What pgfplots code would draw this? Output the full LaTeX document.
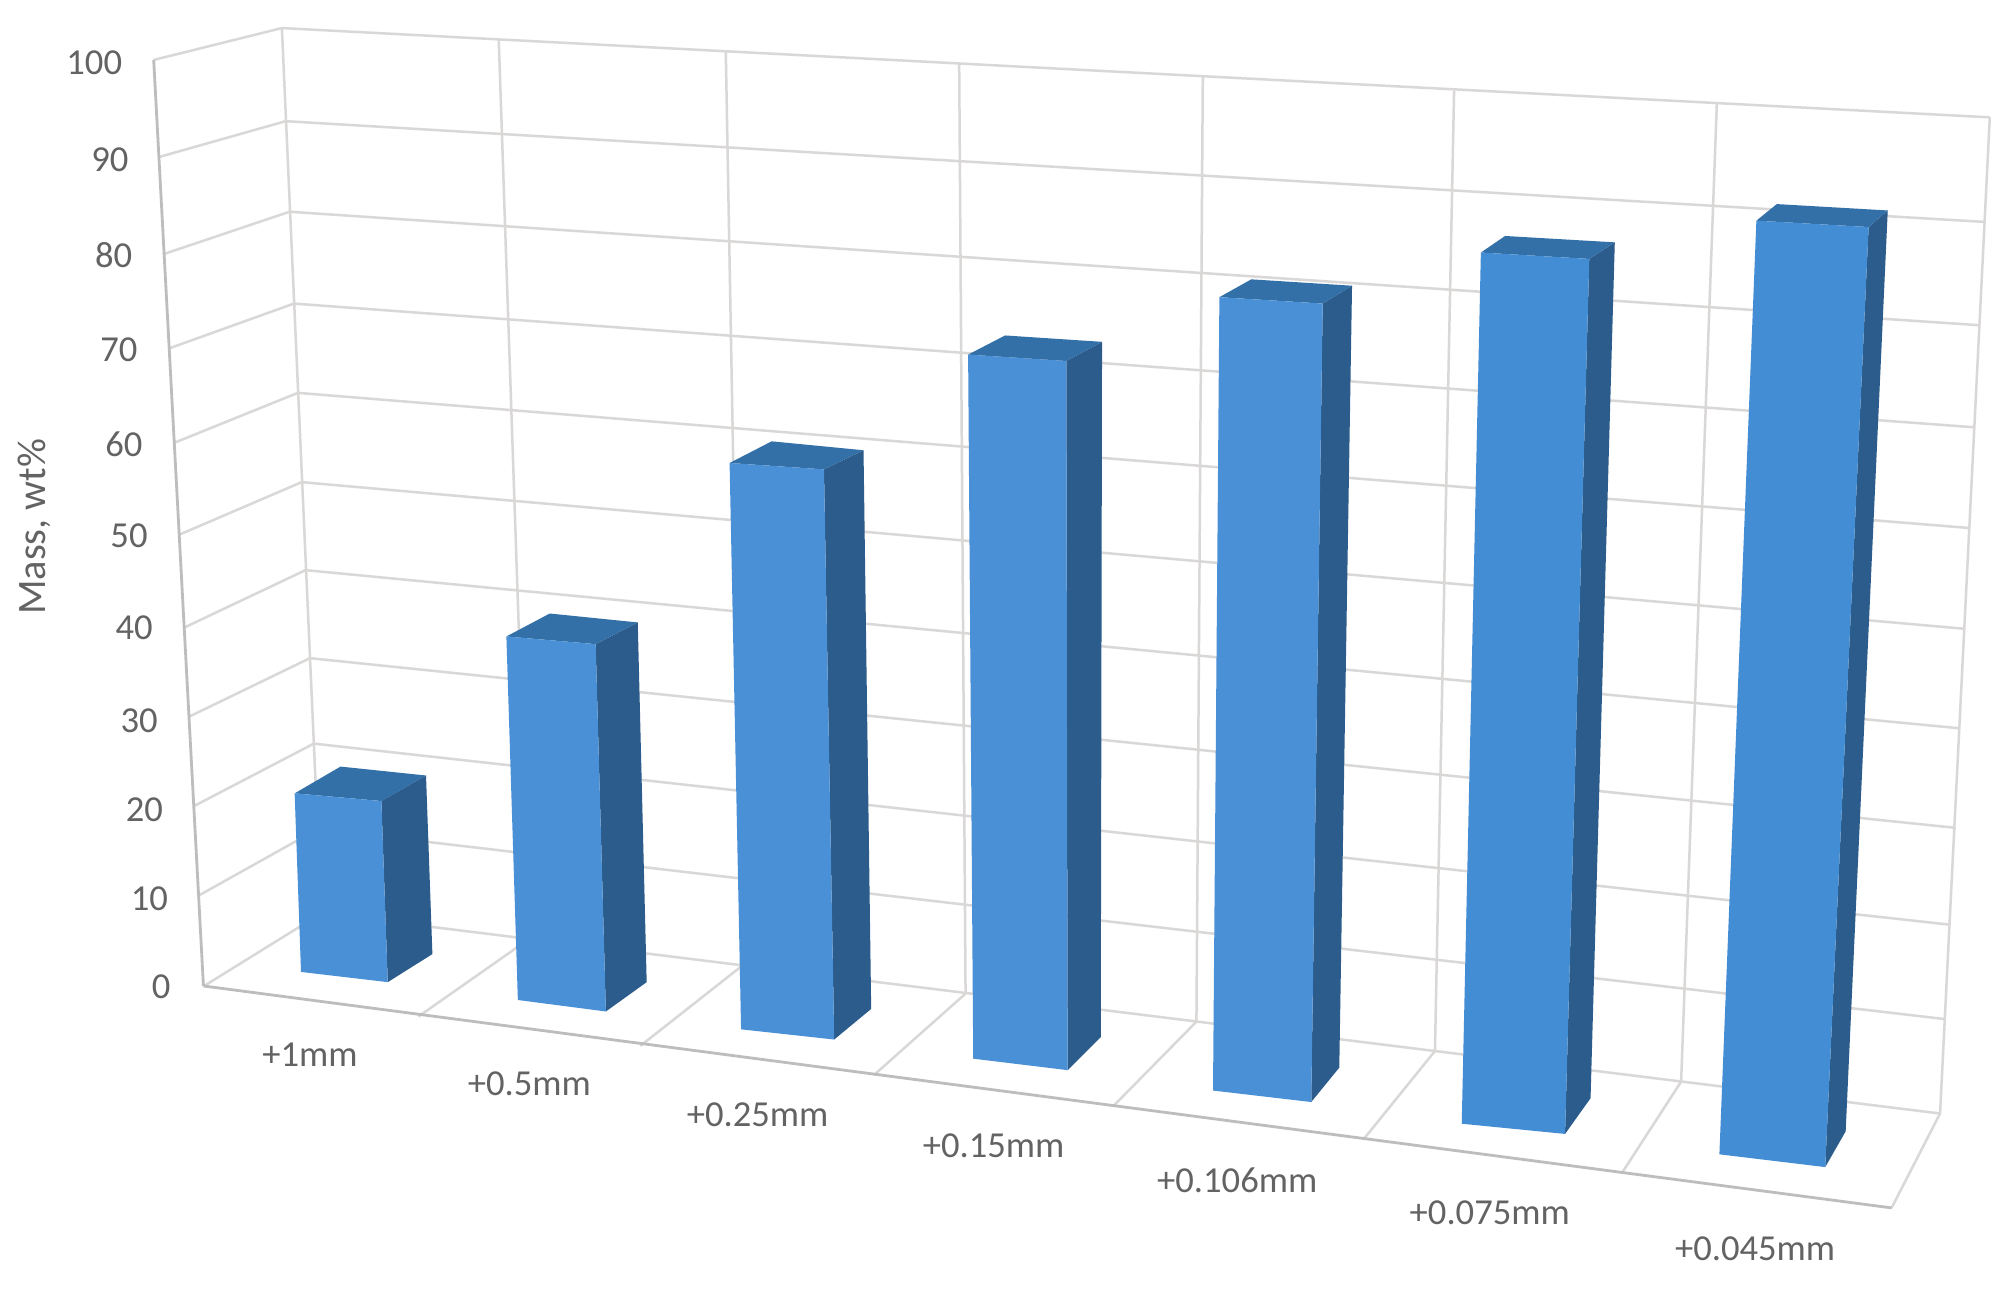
\documentclass[border=0pt]{standalone}
\usepackage{fontspec}
\setmainfont{Carlito}
\usepackage{pgfplots}
\pgfplotsset{compat=1.18}

\definecolor{frontblue}{HTML}{4A90D6}
\definecolor{frontblueb}{HTML}{428DD4}
\definecolor{topblue}{HTML}{3370A8}
\definecolor{sideblue}{HTML}{2B5C8C}
\definecolor{gridgray}{HTML}{DAD7D7}
\definecolor{edgegray}{HTML}{BDBDBD}
\definecolor{txtgray}{HTML}{636363}

\tikzset{
  wall/.style={draw=gridgray, line width=1.25pt},
  edge/.style={draw=edgegray, line width=1.4pt},
  lab/.style={font=\fontsize{18.3}{20}\selectfont, text=txtgray, inner sep=0pt},
  front/.style={fill=frontblue, draw=none},
  frontb/.style={fill=frontblueb, draw=none},
  top/.style={fill=topblue, draw=none},
  side/.style={fill=sideblue, draw=none},
}
% the chart is a 3D view, so everything is given in picture coordinates
\newcommand{\wl}[4]{\addplot[wall] coordinates {(#1,#2)(#3,#4)};}
\newcommand{\el}[4]{\addplot[edge] coordinates {(#1,#2)(#3,#4)};}

\begin{document}
\begin{tikzpicture}
\begin{axis}[
    scale only axis,
    width=1000pt, height=645.4pt,
    xmin=0, xmax=1568,
    ymin=0, ymax=1012,
    y dir=reverse,
    hide axis,
    clip=false,
    no markers,
]
\addplot[fill=white, draw=none] coordinates {(0,0)(1568,0)(1568,1012)(0,1012)} -- cycle;

% left wall, 100 down to 0
\wl{120.5}{47}{221}{22}
\wl{125}{123}{224}{95}
\wl{129}{199}{227}{166}
\wl{133}{273}{230.5}{238}
\wl{137}{347}{233.5}{308}
\wl{141}{419}{236.5}{378}
\wl{144.5}{492}{239.5}{447}
\wl{148}{562}{243}{516}
\wl{152}{632}{246}{583}
\wl{156}{702}{249}{650}
% back wall, horizontals
\wl{221}{22}{1560}{92}
\wl{224}{95}{1556}{174}
\wl{227}{166}{1552}{255}
\wl{230.5}{238}{1548}{335}
\wl{233.5}{308}{1544.5}{414}
\wl{236.5}{378}{1540.5}{493}
\wl{239.5}{447}{1536.5}{571}
\wl{243}{516}{1533}{649}
\wl{246}{583}{1529}{725}
\wl{249}{650}{1525}{799}
\wl{252}{716}{1521}{873}
% back wall, verticals
\wl{221}{22}{252}{716}
\wl{391}{31}{415}{736}
\wl{569}{40}{582}{757}
\wl{752}{50}{757}{779}
\wl{943}{60}{938}{801}
\wl{1140}{71}{1125}{824}
\wl{1346}{81}{1318}{848}
\wl{1560}{92}{1521}{873}
% floor
\wl{252}{716}{160}{773}
\wl{415}{736}{328}{797}
\wl{582}{757}{502}{820}
\wl{757}{779}{685}{843}
\wl{938}{801}{873}{867}
\wl{1125}{824}{1070}{892}
\wl{1318}{848}{1272}{919}
\wl{1521}{873}{1483}{947}
% outer edges
\el{120.5}{47}{159.5}{773}
\el{159.5}{773}{1483}{947}

% +1mm
\addplot[side] coordinates {(299,628)(334,608)(339,748)(304,770)} -- cycle;
\addplot[top] coordinates {(231,622)(267,601)(334,608)(299,628)} -- cycle;
\addplot[front] coordinates {(231,622)(299,628)(304,770)(236,762)} -- cycle;
% +0.5mm
\addplot[side] coordinates {(467,505)(500,488)(507,770)(475,793)} -- cycle;
\addplot[top] coordinates {(397,499)(431,481)(500,488)(467,505)} -- cycle;
\addplot[front] coordinates {(397,499)(467,505)(475,793)(406,784)} -- cycle;
% +0.25mm
\addplot[side] coordinates {(646,368)(677,353)(683,791)(654,815)} -- cycle;
\addplot[top] coordinates {(572,363)(605,346)(677,353)(646,368)} -- cycle;
\addplot[front] coordinates {(572,363)(646,368)(654,815)(581,807)} -- cycle;
% +0.15mm
\addplot[side] coordinates {(836,283)(864,268)(863,813)(837,839)} -- cycle;
\addplot[top] coordinates {(759,278)(788,263)(864,268)(836,283)} -- cycle;
\addplot[front] coordinates {(759,278)(836,283)(837,839)(763,830)} -- cycle;
% +0.106mm
\addplot[side] coordinates {(1037,238)(1060,224)(1050,837)(1028,864)} -- cycle;
\addplot[top] coordinates {(956,233)(981,219)(1060,224)(1037,238)} -- cycle;
\addplot[front] coordinates {(956,233)(1037,238)(1028,864)(951,855)} -- cycle;
% +0.075mm
\addplot[side] coordinates {(1246,203)(1266,190)(1247,861)(1227,889)} -- cycle;
\addplot[top] coordinates {(1161,198)(1180,185)(1266,190)(1246,203)} -- cycle;
\addplot[frontb] coordinates {(1161,198)(1246,203)(1227,889)(1146,881)} -- cycle;
% +0.045mm
\addplot[side] coordinates {(1465,178)(1480,165)(1447,887)(1431,915)} -- cycle;
\addplot[top] coordinates {(1377,173)(1393,160)(1480,165)(1465,178)} -- cycle;
\addplot[frontb] coordinates {(1377,173)(1465,178)(1431,915)(1348,905)} -- cycle;

% value labels
\node[lab, anchor=east] at (axis cs:96,49) {100};
\node[lab, anchor=east] at (axis cs:101,125) {90};
\node[lab, anchor=east] at (axis cs:104,200) {80};
\node[lab, anchor=east] at (axis cs:108,274) {70};
\node[lab, anchor=east] at (axis cs:112,348) {60};
\node[lab, anchor=east] at (axis cs:116,420) {50};
\node[lab, anchor=east] at (axis cs:120,492) {40};
\node[lab, anchor=east] at (axis cs:124,565) {30};
\node[lab, anchor=east] at (axis cs:128,635) {20};
\node[lab, anchor=east] at (axis cs:132,705) {10};
\node[lab, anchor=east] at (axis cs:134,774) {0};
\node[lab, rotate=90, font=\fontsize{20.2}{22}\selectfont] at (axis cs:27,413) {Mass, wt\%};
% categories
\node[lab] at (axis cs:243,827) {+1mm};
\node[lab] at (axis cs:415,850) {+0.5mm};
\node[lab] at (axis cs:594,874) {+0.25mm};
\node[lab] at (axis cs:779,898) {+0.15mm};
\node[lab] at (axis cs:970,925) {+0.106mm};
\node[lab] at (axis cs:1168,951) {+0.075mm};
\node[lab] at (axis cs:1376,979) {+0.045mm};
\end{axis}
\end{tikzpicture}
\end{document}
